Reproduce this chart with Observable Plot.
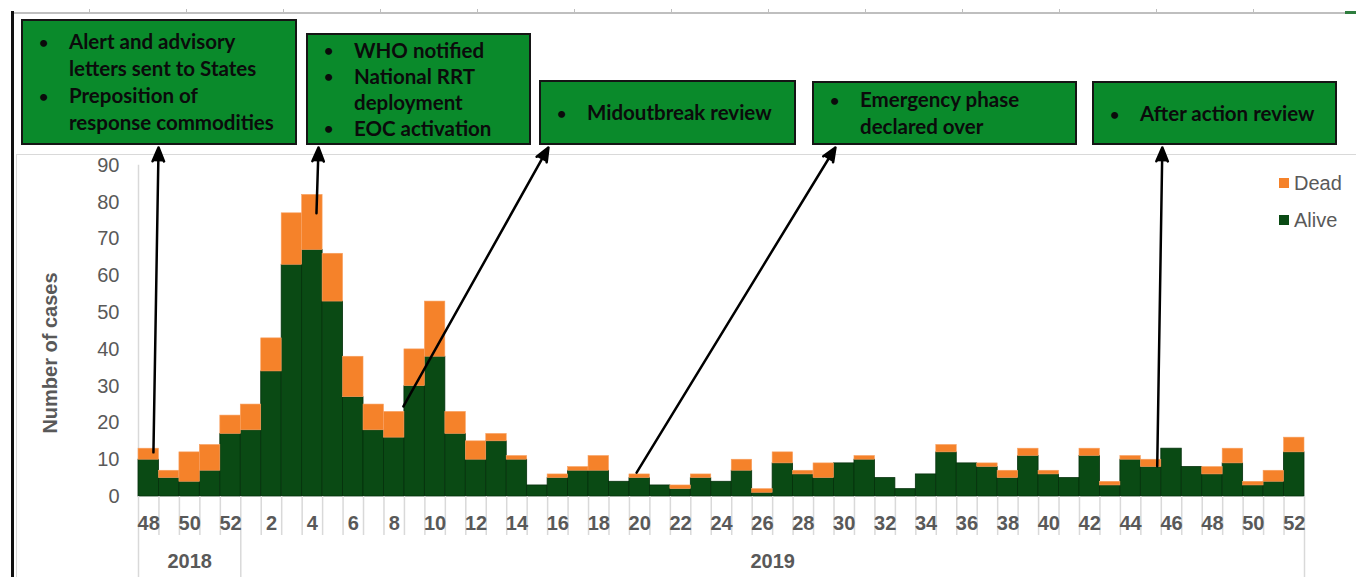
<!DOCTYPE html>
<html>
<head>
<meta charset="utf-8">
<script src="https://cdn.jsdelivr.net/npm/d3@7"></script>
<script src="https://cdn.jsdelivr.net/npm/@observablehq/plot@0.6"></script>
<style>
  html, body { margin: 0; padding: 0; background: #fff; }
  #wrap { position: relative; width: 1356px; height: 577px; overflow: hidden; background: #fff; }
  #chart { position: absolute; left: 0; top: 0; }
  .deco { position: absolute; }
  .box { position: absolute; box-sizing: border-box; background: #0a8a2b; border: 2px solid #151515;
         display: flex; flex-direction: column; justify-content: center;
         font-family: Lato, "Noto Sans", sans-serif; font-weight: 700; font-size: 20.5px; color: #0b0b0b; }
  .item { position: relative; padding-left: 46px; }
  .item .bul { position: absolute; left: 16px; top: 0; font-size: 16px; }
  .legend { position: absolute; font-family: "Liberation Sans", Arial, sans-serif; font-size: 20px; color: #595959; }
  .legend .sw { position: absolute; width: 10px; height: 10px; }
  .legend .lab { position: absolute; white-space: nowrap; }
</style>
</head>
<body>
<div id="wrap"></div>
<script>
// ---------------- data ----------------
const years = ["2018", "2019"];
const weeks2018 = [48, 49, 50, 51, 52];
const alive2018 = [10, 5, 4, 7, 17];
const dead2018  = [3, 2, 8, 7, 5];
const weeks2019 = [1, 2, 3, 4, 5, 6, 7, 8, 9, 10, 11, 12, 13, 14, 15, 16, 17, 18, 19, 20,
                   21, 22, 23, 24, 25, 26, 27, 28, 29, 30, 31, 32, 33, 34, 35, 36, 37, 38, 39, 40,
                   41, 42, 43, 44, 45, 46, 47, 48, 49, 50, 51, 52];
const alive2019 = [18, 34, 63, 67, 53, 27, 18, 16, 30, 38, 17, 10, 15, 10, 3, 5, 7, 7, 4, 5,
                   3, 2, 5, 4, 7, 1, 9, 6, 5, 9, 10, 5, 2, 6, 12, 9, 8, 5, 11, 6,
                   5, 11, 3, 10, 8, 13, 8, 6, 9, 3, 4, 12];
const dead2019  = [7, 9, 14, 15, 13, 11, 7, 7, 10, 15, 6, 5, 2, 1, 0, 1, 1, 4, 0, 1,
                   0, 1, 1, 0, 3, 1, 3, 1, 4, 0, 1, 0, 0, 0, 2, 0, 1, 2, 2, 1,
                   0, 2, 1, 1, 2, 0, 0, 2, 4, 1, 3, 4];
const yTicks = [0, 10, 20, 30, 40, 50, 60, 70, 80, 90];
const seriesNames = ["Dead", "Alive"];
const yLabel = "Number of cases";

// annotation texts (bullets, each bullet = list of lines)
const notes = [
  [["Alert and advisory", "letters sent to States"], ["Preposition of", "response commodities"]],
  [["WHO notified"], ["National RRT", "deployment"], ["EOC activation"]],
  [["Midoutbreak review"]],
  [["Emergency phase", "declared over"]],
  [["After action review"]]
];
// arrows: from a point on the bars (week index units, cases) to the box above
const arrowFrom = [[0.73, 12], [8.7, 77], [12.95, 24.5], [24.35, 6.5], [49.8, 8.2]];
const arrowTo   = [[0.98, 94.9], [8.8, 94.9], [20.04, 94.9], [34.07, 94.9], [50.05, 94.9]];

// ---------------- table ----------------
const rows = [];
weeks2018.forEach((w, k) => rows.push({year: years[0], week: w, alive: alive2018[k], dead: dead2018[k]}));
weeks2019.forEach((w, k) => rows.push({year: years[1], week: w, alive: alive2019[k], dead: dead2019[k]}));
rows.forEach((d, i) => { d.i = i; d.total = d.alive + d.dead; });
const N = rows.length;

const colAlive = "#0a4a14", colDead = "#f5822a", grid = "#d9d9d9", txt = "#595959";

const boundaries = d3.range(1, N).filter(i => rows[i].year === rows[i - 1].year);
const yearEdges = [0, ...d3.range(1, N).filter(i => rows[i].year !== rows[i - 1].year), N];
const labelPos = rows.filter(d => d.i % 2 === 0).map(d => d.i + 0.5);
const yearPos = years.map(y => {
  const idx = rows.filter(d => d.year === y).map(d => d.i);
  return (d3.min(idx) + d3.max(idx) + 1) / 2;
});
const arrows = arrowFrom.map((f, k) => ({x1: f[0], y1: f[1], x2: arrowTo[k][0], y2: arrowTo[k][1]}));

const wrap = document.getElementById("wrap");

// ---------------- decorations (background frame) ----------------
function deco(css) { const e = document.createElement("div"); e.className = "deco"; e.style.cssText = css; wrap.appendChild(e); return e; }
deco("left:16px;top:154px;width:1400px;height:500px;border:1.5px solid #d9d9d9;");
deco("left:12px;top:12px;width:1334px;height:1.5px;background:#bfbfbf;");
deco("left:1345px;top:11px;width:12px;height:2.5px;background:#2e7d3e;");
for (let x = 89; x < 1300; x += 97) deco(`left:${x}px;top:9px;width:1px;height:4px;background:#bfbfbf;`);
deco("left:11px;top:11px;width:2.5px;height:570px;background:#111;");

// ---------------- chart ----------------
const chart = Plot.plot({
  width: 1356, height: 577,
  marginLeft: 138, marginRight: 52, marginTop: 165, marginBottom: 81,
  x: {domain: [0, N], axis: null},
  y: {domain: [0, 90], axis: null},
  style: {fontFamily: "'Liberation Sans', Arial, sans-serif", background: "transparent", overflow: "visible"},
  marks: [
    Plot.frame({anchor: "left", stroke: grid, strokeWidth: 1.5}),
    Plot.rect(rows, {x1: "i", x2: d => d.i + 1, y1: 0, y2: "alive", fill: colAlive, stroke: "#04300b", strokeWidth: 0.8}),
    Plot.rect(rows.filter(d => d.dead > 0), {x1: "i", x2: d => d.i + 1, y1: "alive", y2: "total", fill: colDead, stroke: "#f8a060", strokeWidth: 0.6}),
    Plot.axisY({ticks: yTicks, tickSize: 0, tickPadding: 19, fontSize: 20, color: txt, label: null}),
    Plot.axisX({ticks: boundaries, tickSize: 39, tickFormat: () => "", color: grid, strokeWidth: 1.5, label: null}),
    Plot.axisX({ticks: yearEdges, tickSize: 81, tickFormat: () => "", color: grid, strokeWidth: 1.5, label: null}),
    Plot.axisX({ticks: labelPos, tickSize: 0, tickPadding: 19, tickFormat: v => String(rows[Math.floor(v)].week),
                fontSize: 20, fontWeight: "bold", color: txt, label: null}),
    Plot.axisX({ticks: yearPos, tickSize: 0, tickPadding: 57, tickFormat: (v, k) => years[k],
                fontSize: 20, fontWeight: "bold", color: txt, label: null}),
    Plot.text([yLabel], {frameAnchor: "left", dx: -88, dy: 22, rotate: -90, textAnchor: "middle",
                         fontSize: 20, fontWeight: "bold", fill: txt}),
    Plot.arrow(arrows, {x1: "x1", y1: "y1", x2: "x2", y2: "y2", stroke: "#000", fill: "#000",
                        strokeWidth: 2.5, headLength: 9, headAngle: 45, strokeLinejoin: "miter"})
  ]
});
chart.id = "chart";
wrap.appendChild(chart);

// ---------------- annotation boxes ----------------
const boxLayout = [
  {left: 21, top: 19, width: 276, height: 126, lh: 27},
  {left: 306, top: 33, width: 225, height: 112, lh: 26},
  {left: 539, top: 80, width: 257, height: 65, lh: 27},
  {left: 812, top: 81, width: 265, height: 64, lh: 27},
  {left: 1092, top: 81, width: 245, height: 64, lh: 27}
];
notes.forEach((items, k) => {
  const L = boxLayout[k];
  const b = document.createElement("div");
  b.className = "box";
  b.style.cssText = `left:${L.left}px;top:${L.top}px;width:${L.width}px;height:${L.height}px;line-height:${L.lh}px;`;
  items.forEach(lines => {
    const it = document.createElement("div");
    it.className = "item";
    const bul = document.createElement("span");
    bul.className = "bul"; bul.textContent = "•";
    it.appendChild(bul);
    lines.forEach(l => { const ln = document.createElement("div"); ln.textContent = l; it.appendChild(ln); });
    b.appendChild(it);
  });
  wrap.appendChild(b);
});

// ---------------- legend ----------------
const leg = document.createElement("div");
leg.className = "legend";
leg.style.cssText = "left:1279px;top:170px;width:80px;height:70px;";
const legColors = {Dead: colDead, Alive: colAlive};
seriesNames.forEach((s, k) => {
  const sw = document.createElement("div");
  sw.className = "sw";
  sw.style.cssText = `left:0px;top:${8 + k * 37}px;background:${legColors[s]};`;
  const lab = document.createElement("div");
  lab.className = "lab";
  lab.style.cssText = `left:15px;top:${1 + k * 37}px;line-height:24px;`;
  lab.textContent = s;
  leg.appendChild(sw); leg.appendChild(lab);
});
wrap.appendChild(leg);
</script>
</body>
</html>
